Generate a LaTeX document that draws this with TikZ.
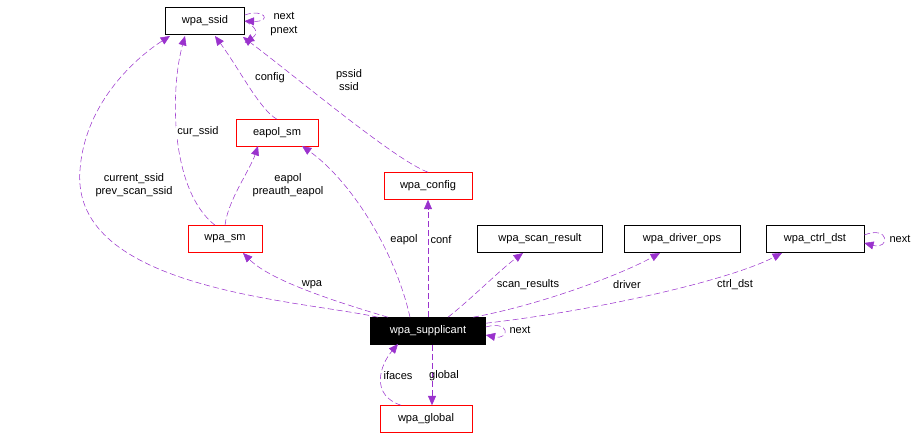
\documentclass[tikz,border=0pt]{standalone}
\usepackage{fontspec}
\setmainfont{Liberation Sans}
\usetikzlibrary{arrows.meta}
\definecolor{ep}{HTML}{9A32CD}
\begin{document}
\begin{tikzpicture}[x=0.75pt,y=-0.75pt,font=\fontsize{8.3}{9.3}\selectfont,
 box/.style={draw=black,rectangle,minimum height=27*0.75pt,inner sep=0pt,fill=white},
 rbox/.style={box,draw=red},
 e/.style={draw=ep,dash pattern=on 4.5pt off 2.25pt,-{Triangle[length=7pt,width=6pt]},line width=0.4pt},
 lb/.style={align=center,inner sep=1pt}]
\useasboundingbox (0,0) rectangle (922,442);
\node[box,minimum width=79*0.75pt] (ssid) at (205,21) {wpa\_ssid};
\node[rbox,minimum width=82*0.75pt] (eapol) at (277,133) {eapol\_sm};
\node[rbox,minimum width=88*0.75pt] (conf) at (428,186) {wpa\_config};
\node[rbox,minimum width=74*0.75pt] (sm) at (225,239) {wpa\_sm};
\node[box,minimum width=125*0.75pt] (scan) at (540,239) {wpa\_scan\_result};
\node[box,minimum width=116*0.75pt] (drv) at (682,239) {wpa\_driver\_ops};
\node[box,minimum width=98*0.75pt] (ctrl) at (815,239) {wpa\_ctrl\_dst};
\node[box,fill=black,text=white,minimum width=115*0.75pt] (sup) at (428,331) {wpa\_supplicant};
\node[rbox,minimum width=92*0.75pt] (glob) at (426,419) {wpa\_global};

\draw[e] (ssid.east) ++(0,-6) coordinate (a1) .. controls (265,8) and (272,22) .. (ssid.east);
\draw[e] (ssid.east) .. controls (258,28) and (258,34) .. ([yshift=-8*0.75pt]ssid.south east);
\node[lb] at (284,16) {next};
\node[lb] at (284,31) {pnext};
\draw[e] (eapol.north) .. controls (260,110) and (240,70) .. (215,36);
\node[lb] at (270,78) {config};
\draw[e] (conf.north) .. controls (395,160) and (300,80) .. (243,37);
\node[lb] at (349,80) {pssid\\ssid};
\draw[e] ([xshift=-10*0.75pt]sm.north) .. controls (170,190) and (170,90) .. (185,36);
\node[lb,fill=white] at (198,132) {cur\_ssid};
\draw[e] (sm.north) .. controls (228,200) and (250,170) .. (258,146);
\node[lb] at (288,185) {eapol\\preauth\_eapol};
\draw[e] ([xshift=-50*0.75pt]sup.north) .. controls (300,300) and (70,290) .. (80,170) .. controls (85,100) and (140,55) .. (170,36);
\node[lb,fill=white] at (134,185) {current\_ssid\\prev\_scan\_ssid};
\draw[e] ([xshift=-40*0.75pt]sup.north) .. controls (330,300) and (270,280) .. (243,253);
\node[lb] at (312,285) {wpa};
\draw[e] ([xshift=-18*0.75pt]sup.north) .. controls (395,250) and (350,180) .. (302,146);
\node[lb] at (404,240) {eapol};
\draw[e] (sup.north) -- (conf.south);
\node[lb] at (441,240) {conf};
\draw[e] ([xshift=20*0.75pt]sup.north) .. controls (470,300) and (500,270) .. (523,253);
\node[lb] at (528,285) {scan\_results};
\draw[e] ([xshift=45*0.75pt]sup.north) .. controls (540,305) and (620,275) .. (660,253);
\node[lb] at (627,285) {driver};
\draw[e] ([yshift=-6*0.75pt]sup.north east) .. controls (600,310) and (730,280) .. (782,253);
\node[lb] at (735,285) {ctrl\_dst};
\draw[e] ([yshift=4*0.75pt]sup.east) .. controls (510,320) and (510,340) .. ([yshift=-4*0.75pt]sup.east);
\node[lb] at (520,330) {next};
\draw[e] ([yshift=4*0.75pt]ctrl.east) .. controls (890,225) and (890,250) .. ([yshift=-4*0.75pt]ctrl.east);
\node[lb] at (900,239) {next};
\draw[e] ([xshift=4*0.75pt]sup.south) -- ([xshift=6*0.75pt]glob.north);
\node[lb] at (444,376) {global};
\draw[e] ([xshift=-25*0.75pt]glob.north) .. controls (370,395) and (380,365) .. (398,344);
\node[lb] at (398,376) {ifaces};
\end{tikzpicture}
\end{document}
